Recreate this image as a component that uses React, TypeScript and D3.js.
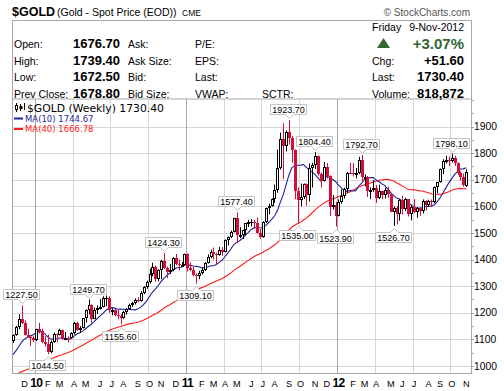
import React from 'react';
import * as d3 from 'd3';

const W = 504;
const H = 391;
const PLOT = { left: 12, right: 471, top: 99, bottom: 373 };
const SANS = "'Liberation Sans', Arial, sans-serif";
const VERD = "'DejaVu Sans', Verdana, sans-serif";
const CANDLE_RED = '#d0103a';

// weekly bars, plotted on the Monday of each week (week of Nov 9 2009 .. week of Nov 5 2012)
const weeks = d3.timeMonday.range(new Date(2009, 10, 9), new Date(2012, 10, 6));

const opens = [
  1095, 1118, 1146, 1176, 1162, 1118, 1110, 1104, 1096, 1138,
  1131, 1091, 1083, 1052, 1090, 1120, 1118, 1134, 1103, 1107,
  1105, 1125, 1161, 1136, 1142, 1179, 1209, 1228, 1176, 1212,
  1217, 1221, 1256, 1256, 1209, 1210, 1190, 1188, 1181, 1204,
  1215, 1228, 1236, 1249, 1246, 1275, 1297, 1317, 1346, 1371,
  1328, 1359, 1394, 1367, 1352, 1362, 1406, 1385, 1379, 1380,
  1421, 1369, 1360, 1342, 1340, 1350, 1360, 1388, 1409, 1429,
  1421, 1418, 1437, 1429, 1474, 1486, 1504, 1556, 1491, 1492,
  1510, 1536, 1542, 1542, 1539, 1500, 1486, 1542, 1594, 1601,
  1628, 1663, 1744, 1852, 1828, 1880, 1856, 1812, 1656, 1623,
  1636, 1683, 1641, 1745, 1754, 1789, 1723, 1696, 1746, 1713,
  1598, 1606, 1564, 1617, 1639, 1665, 1726, 1725, 1724, 1725,
  1774, 1710, 1711, 1656, 1662, 1669, 1631, 1659, 1643, 1663,
  1645, 1580, 1592, 1572, 1622, 1591, 1627, 1573, 1598, 1580,
  1592, 1584, 1620, 1605, 1621, 1616, 1672, 1691, 1740, 1772,
  1773, 1772, 1780, 1764.5, 1724, 1712, 1676.7,
];
const highs = [
  1119, 1151, 1195, 1227.5, 1171, 1140, 1112, 1112, 1140, 1162,
  1140, 1112, 1118, 1096, 1126, 1122, 1140, 1137, 1128, 1111,
  1127, 1166, 1166, 1150, 1180, 1212, 1249.7, 1232, 1220, 1228,
  1251, 1262, 1265, 1262, 1217, 1215, 1210, 1195, 1208, 1216,
  1234, 1241, 1254, 1259, 1281, 1300, 1321, 1366, 1388, 1377,
  1364, 1399, 1424.3, 1374, 1383, 1409, 1421, 1400, 1391, 1422,
  1423, 1389, 1373, 1348, 1358, 1370, 1390, 1419, 1437, 1445,
  1426, 1448, 1447, 1476, 1487, 1509, 1557, 1577.4, 1522, 1512,
  1538, 1549, 1552, 1549, 1558, 1515, 1544, 1595, 1610, 1630,
  1682, 1813, 1877, 1912, 1885, 1923.7, 1865, 1814, 1671, 1686,
  1686, 1686, 1761, 1764, 1804.4, 1791, 1727, 1767, 1763, 1717,
  1642, 1617, 1626, 1663, 1670, 1729, 1764, 1763, 1744, 1786,
  1792.7, 1720, 1714, 1672, 1699, 1680, 1681, 1660, 1670, 1674,
  1648, 1600, 1600, 1628, 1640, 1632, 1628, 1605, 1627, 1598,
  1595, 1626, 1623, 1625, 1626, 1675, 1692, 1742, 1777, 1790,
  1787, 1798.1, 1790, 1765, 1731, 1723, 1739.4,
];
const lows = [
  1086, 1114, 1138, 1158, 1115, 1107, 1075, 1090, 1094, 1122,
  1086, 1073, 1044.5, 1048, 1087, 1090, 1115, 1099, 1097, 1088,
  1103, 1118, 1132, 1125, 1141, 1163, 1194, 1162, 1176, 1195,
  1212, 1220, 1225, 1200, 1190, 1186, 1176, 1155.6, 1177, 1193,
  1211, 1222, 1231, 1239, 1242, 1270, 1290, 1310, 1337, 1316,
  1318, 1326, 1364, 1330, 1346, 1356, 1378, 1360, 1374, 1376,
  1355, 1356, 1336, 1309.1, 1326, 1344, 1357, 1385, 1405, 1400,
  1381, 1414, 1414, 1427, 1453, 1480, 1502, 1462, 1480, 1477,
  1490, 1522, 1525, 1515, 1498, 1478, 1482, 1538, 1570, 1599,
  1613, 1651, 1738, 1702, 1806, 1832, 1764, 1627, 1535, 1600,
  1627, 1603, 1618, 1671, 1741, 1715, 1671, 1693, 1704, 1563,
  1588, 1523.9, 1562, 1610, 1629, 1651, 1723, 1712, 1705, 1721,
  1689, 1675, 1635, 1627, 1654, 1613, 1627, 1627, 1630, 1632,
  1578, 1526.7, 1532, 1546, 1569, 1582, 1562, 1547, 1574, 1557,
  1565, 1573, 1585, 1600, 1598, 1612, 1649, 1689, 1721, 1761,
  1751, 1765, 1752, 1718, 1697, 1673, 1672.5,
];
const closes = [
  1118, 1146, 1176, 1162, 1118, 1110, 1104, 1096, 1138, 1131,
  1091, 1083, 1052, 1090, 1120, 1118, 1134, 1103, 1107, 1105,
  1125, 1161, 1136, 1142, 1179, 1209, 1228, 1176, 1212, 1217,
  1221, 1256, 1256, 1209, 1210, 1190, 1188, 1181, 1204, 1215,
  1228, 1236, 1249, 1246, 1275, 1297, 1317, 1346, 1371, 1328,
  1359, 1394, 1367, 1352, 1362, 1406, 1385, 1379, 1380, 1421,
  1369, 1360, 1342, 1340, 1350, 1360, 1388, 1409, 1429, 1421,
  1418, 1437, 1429, 1474, 1486, 1504, 1556, 1491, 1492, 1510,
  1536, 1542, 1542, 1539, 1500, 1486, 1542, 1594, 1601, 1628,
  1663, 1744, 1852, 1828, 1880, 1856, 1812, 1656, 1623, 1636,
  1683, 1641, 1745, 1754, 1789, 1723, 1696, 1746, 1713, 1598,
  1606, 1564, 1617, 1639, 1665, 1726, 1725, 1724, 1725, 1774,
  1710, 1711, 1656, 1662, 1669, 1631, 1659, 1643, 1663, 1645,
  1580, 1592, 1572, 1622, 1591, 1627, 1573, 1598, 1580, 1592,
  1584, 1620, 1605, 1621, 1616, 1672, 1691, 1740, 1772, 1773,
  1772, 1780, 1764.5, 1724, 1712, 1678.8, 1730.4,
];
// weekly closes before the first visible bar, only feed the moving averages
const priorCloses = [
  942, 1002, 942, 940, 930, 953, 924, 897, 882, 870,
  912, 887, 914, 930, 958, 979, 962, 938, 936, 940,
  930, 912, 937, 953, 954, 956, 946, 952, 955, 996,
  1006, 1010, 991, 1004, 1050, 1051, 1057, 1046, 1095,
];

const swingValues = [1227.5, 1044.5, 1249.7, 1155.6, 1424.3, 1309.1, 1577.4, 1923.7, 1535.0, 1804.4, 1523.9, 1792.7, 1526.7, 1798.1];
const swingKinds = ['H', 'L', 'H', 'L', 'H', 'L', 'H', 'H', 'L', 'H', 'L', 'H', 'L', 'H'];
const yTicks = [1000, 1100, 1200, 1300, 1400, 1500, 1600, 1700, 1800, 1900];

const LAST_TEXT = '1730.40';
const MA10_TEXT = '1744.67';
const MA40_TEXT = '1666.78';

const x = d3.scaleTime().domain([new Date(2010, 0, 1), new Date(2012, 0, 1)]).range([35, 338]);
const y = d3.scaleLinear().domain([1000, 1900]).range([366, 126.5]);
const step = x(weeks[1]) - x(weeks[0]);

const allCloses = priorCloses.concat(closes);
const sma = (n: number) =>
  closes.map((_, i) => {
    const end = i + priorCloses.length + 1;
    return d3.mean(allCloses.slice(end - n, end)) as number;
  });
const ma10 = sma(10);
const ma40 = sma(40);

const maLine = d3
  .line<number>()
  .x((_, i) => x(weeks[i]))
  .y((d) => y(d));

const months = d3.timeMonth.range(new Date(2009, 11, 1), new Date(2012, 11, 1));

function Candles() {
  return (
    <g clipPath="url(#plotClip)">
      {closes.map((c, i) => {
        const o = opens[i];
        const prev = i === 0 ? priorCloses[priorCloses.length - 1] : closes[i - 1];
        const color = c >= prev ? '#000' : CANDLE_RED;
        const hollow = c > o;
        const cx = Math.round(x(weeks[i]));
        const top = Math.round(y(Math.max(o, c)));
        const bot = Math.round(y(Math.min(o, c)));
        const h = Math.max(bot - top, 1);
        return (
          <g key={i}>
            <line x1={cx + 0.5} x2={cx + 0.5} y1={y(highs[i])} y2={y(lows[i])} stroke={color} strokeWidth={1} />
            {hollow ? (
              <rect x={cx - 0.5} y={top + 0.5} width={2} height={Math.max(h - 1, 1)} fill="#fff" stroke={color} strokeWidth={1} />
            ) : (
              <rect x={cx - 1} y={top} width={3} height={h} fill={color} />
            )}
          </g>
        );
      })}
    </g>
  );
}

function SwingLabels() {
  return (
    <g>
      {swingValues.map((v, k) => {
        const isHigh = swingKinds[k] === 'H';
        const idx = isHigh ? highs.indexOf(v) : lows.indexOf(v);
        if (idx < 0) return null;
        const bx = Math.round(x(weeks[idx])) + 0.5;
        const py = y(v);
        const bw = 36;
        const bh = 10;
        const x0 = Math.round(bx - 20) + 0.5;
        const x1 = x0 + bw;
        let path;
        let ty;
        if (isHigh) {
          const yb = Math.round(py - 6) + 0.5;
          const yt = yb - bh;
          path = `M${x0},${yt}H${x1}V${yb}H${bx + 4}L${bx},${yb + 4}L${bx - 4},${yb}H${x0}Z`;
          ty = yt + 8.5;
        } else {
          const yt = Math.round(py + 6) + 0.5;
          const yb = yt + bh;
          path = `M${x0},${yt}H${bx - 4}L${bx},${yt - 4}L${bx + 4},${yt}H${x1}V${yb}H${x0}Z`;
          ty = yt + 8.5;
        }
        return (
          <g key={k}>
            <path d={path} fill="#fff" stroke="#c4c4c4" strokeWidth={1} />
            <text x={(x0 + x1) / 2} y={ty} textAnchor="middle" fontFamily={SANS} fontSize={9} fill="#000">
              {v.toFixed(2)}
            </text>
          </g>
        );
      })}
    </g>
  );
}

function Header() {
  const lab = { fontFamily: SANS, fontSize: 10.5, fill: '#000' } as const;
  const val = { fontFamily: SANS, fontSize: 13, fontWeight: 'bold', fill: '#000' } as const;
  const rows = [47.5, 64.5, 81, 97.5];
  return (
    <g>
      <text x={12} y={16} fontFamily={SANS} fontSize={12.5} fontWeight="bold">$GOLD</text>
      <text x={57} y={15.5} fontFamily={SANS} fontSize={10.5}>(Gold - Spot Price (EOD))</text>
      <text x={182} y={15.5} fontFamily={SANS} fontSize={8.5}>CME</text>
      <text x={470} y={16} textAnchor="end" fontFamily={SANS} fontSize={10} fill="#555">© StockCharts.com</text>
      <rect x={12.5} y={20.5} width={PLOT.right - PLOT.left} height={PLOT.top - 20.5} fill="none" stroke="#a8a8a8" />

      <text x={14} y={rows[0]} {...lab}>Open:</text>
      <text x={14} y={rows[1]} {...lab}>High:</text>
      <text x={14} y={rows[2]} {...lab}>Low:</text>
      <text x={14} y={rows[3]} {...lab}>Prev Close:</text>
      <text x={73} y={rows[0]} {...val}>1676.70</text>
      <text x={73} y={rows[1]} {...val}>1739.40</text>
      <text x={73} y={rows[2]} {...val}>1672.50</text>
      <text x={73} y={rows[3]} {...val}>1678.80</text>
      <text x={128} y={rows[0]} {...lab}>Ask:</text>
      <text x={128} y={rows[1]} {...lab}>Ask Size:</text>
      <text x={128} y={rows[2]} {...lab}>Bid:</text>
      <text x={128} y={rows[3]} {...lab}>Bid Size:</text>
      <text x={195} y={rows[0]} {...lab}>P/E:</text>
      <text x={195} y={rows[1]} {...lab}>EPS:</text>
      <text x={195} y={rows[2]} {...lab}>Last:</text>
      <text x={195} y={rows[3]} {...lab}>VWAP:</text>
      <text x={262} y={rows[3]} {...lab}>SCTR:</text>

      <text x={372} y={31} {...lab}>Friday</text>
      <text x={464} y={31} textAnchor="end" {...lab}>9-Nov-2012</text>
      <polygon points="377,48 390,48 383.5,38" fill="#336633" />
      <text x={464} y={48.5} textAnchor="end" fontFamily={SANS} fontSize={15} fontWeight="bold" fill="#336633">+3.07%</text>
      <text x={372} y={rows[1]} {...lab}>Chg:</text>
      <text x={464} y={rows[1]} textAnchor="end" {...val}>+51.60</text>
      <text x={372} y={rows[2]} {...lab}>Last:</text>
      <text x={464} y={rows[2]} textAnchor="end" {...val}>1730.40</text>
      <text x={372} y={rows[3]} {...lab}>Volume:</text>
      <text x={464} y={rows[3]} textAnchor="end" {...val}>818,872</text>
    </g>
  );
}

export default function App() {
  const firstBars = months.map((m) => d3.timeMonday.ceil(m));
  return (
    <div style={{ position: 'absolute', left: 0, top: 0, background: '#fff' }}>
      <svg width={W} height={H} viewBox={`0 0 ${W} ${H}`} style={{ display: 'block' }}>
        <defs>
          <clipPath id="plotClip">
            <rect x={PLOT.left} y={PLOT.top} width={PLOT.right - PLOT.left} height={PLOT.bottom - PLOT.top} />
          </clipPath>
        </defs>
        <rect width={W} height={H} fill="#fff" />
        <Header />

        {/* grid */}
        {yTicks.map((t) => (
          <line key={t} x1={PLOT.left} x2={PLOT.right} y1={Math.round(y(t)) + 0.5} y2={Math.round(y(t)) + 0.5} stroke="#d6d6d6" />
        ))}
        {months.map((m, i) =>
          m.getMonth() % 3 === 0 ? (
            <line
              key={'g' + i}
              x1={Math.round(x(firstBars[i]) - step / 2) + 0.5}
              x2={Math.round(x(firstBars[i]) - step / 2) + 0.5}
              y1={PLOT.top}
              y2={PLOT.bottom}
              stroke={m.getMonth() === 0 ? '#a9a9a9' : '#d6d6d6'}
            />
          ) : null
        )}

        {/* frame */}
        <line x1={PLOT.left + 0.5} x2={PLOT.left + 0.5} y1={PLOT.top} y2={PLOT.bottom} stroke="#a8a8a8" />
        <line x1={PLOT.right + 0.5} x2={PLOT.right + 0.5} y1={PLOT.top} y2={PLOT.bottom} stroke="#a8a8a8" />
        <line x1={PLOT.left} x2={PLOT.right + 1} y1={PLOT.bottom + 0.5} y2={PLOT.bottom + 0.5} stroke="#a8a8a8" />

        {/* right axis */}
        {d3.range(1000, 2001, 50).map((t) => (
          <line key={'m' + t} x1={PLOT.right} x2={PLOT.right + 3} y1={Math.round(y(t)) + 0.5} y2={Math.round(y(t)) + 0.5} stroke="#a8a8a8" />
        ))}
        {yTicks.map((t) => (
          <text key={'l' + t} x={474} y={y(t) + 3.6} fontFamily={SANS} fontSize={10.3} fill="#000">
            {t}
          </text>
        ))}

        {/* bottom axis */}
        {months.map((m, i) => {
          const isYear = m.getMonth() === 0;
          const lx = x(firstBars[i]);
          return (
            <text
              key={'x' + i}
              x={lx}
              y={387}
              textAnchor="middle"
              fontFamily={SANS}
              fontSize={isYear ? 12 : 9.2}
              fontWeight={isYear ? 'bold' : 'normal'}
              letterSpacing={isYear ? -0.8 : 0}
              fill="#000"
            >
              {isYear ? d3.timeFormat('%y')(m) : d3.timeFormat('%b')(m).charAt(0)}
            </text>
          );
        })}

        {/* moving averages */}
        <g clipPath="url(#plotClip)" fill="none">
          <path d={maLine(ma40) || ''} stroke="#ff1a1a" strokeWidth={1.1} />
          <path d={maLine(ma10) || ''} stroke="#1f1f9a" strokeWidth={1.1} />
        </g>

        <Candles />
        <SwingLabels />

        {/* legend */}
        <g>
          <line x1={16.5} x2={16.5} y1={103} y2={112} stroke="#000" />
          <rect x={15.5} y={105.5} width={2} height={4} fill="#fff" stroke="#000" />
          <line x1={20.5} x2={20.5} y1={104} y2={111} stroke="#000" />
          <rect x={19.5} y={106} width={3} height={3} fill="#000" />
          <line x1={24.5} x2={24.5} y1={103} y2={110} stroke="#000" />
          <text x={27} y={111.5} fontFamily={VERD} fontSize={10.8} fill="#000">
            $GOLD (Weekly) {LAST_TEXT}
          </text>
          <line x1={14} x2={23} y1={118.5} y2={118.5} stroke="#1f1f9a" strokeWidth={2} />
          <text x={25} y={121.5} fontFamily={VERD} fontSize={8.5} fill="#1f1f9a">
            MA(10) {MA10_TEXT}
          </text>
          <line x1={14} x2={23} y1={129} y2={129} stroke="#ff1a1a" strokeWidth={2} />
          <text x={25} y={132} fontFamily={VERD} fontSize={8.5} fill="#ff1a1a">
            MA(40) {MA40_TEXT}
          </text>
        </g>
      </svg>
    </div>
  );
}
